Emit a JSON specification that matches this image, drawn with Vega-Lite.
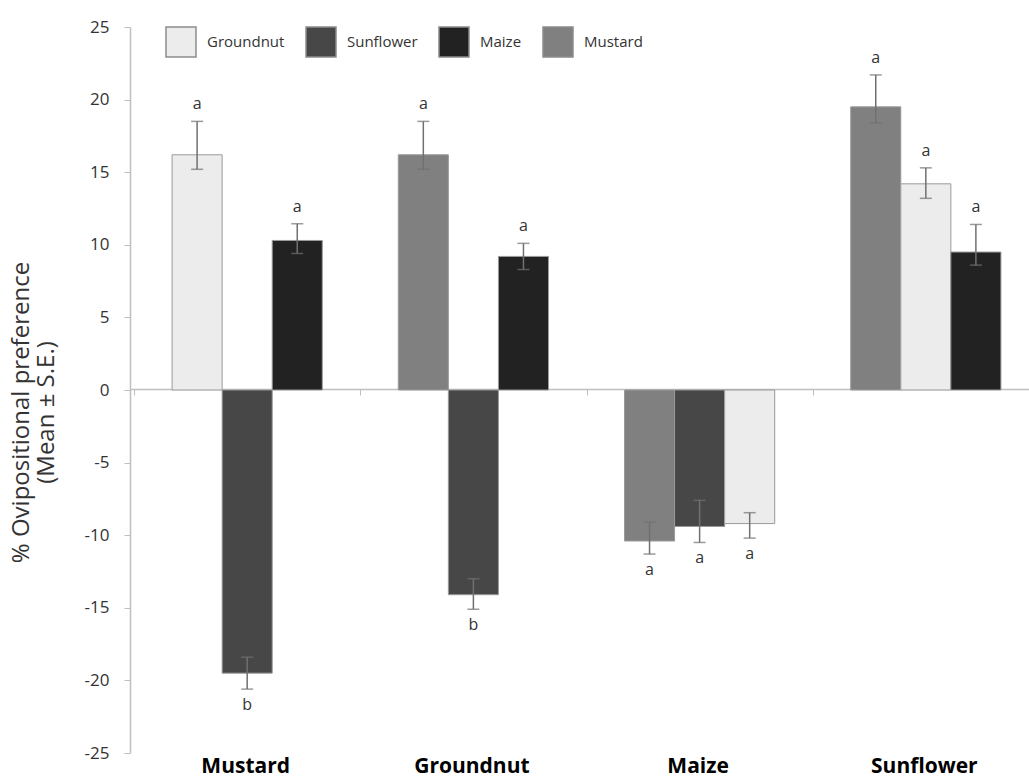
{
  "$schema": "https://vega.github.io/schema/vega-lite/v6.json",
  "width": 899,
  "height": 726,
  "autosize": {"type": "none"},
  "padding": {"left": 130, "top": 27, "right": 0, "bottom": 27},
  "config": {"view": {"stroke": null}, "font": "Open Sans"},
  "data": {
    "values": [
      {"group": "Mustard", "crop": "Groundnut", "slot": 1, "value": 16.2, "lo": 15.2, "hi": 18.5, "letter": "a"},
      {"group": "Mustard", "crop": "Sunflower", "slot": 2, "value": -19.5, "lo": -20.6, "hi": -18.4, "letter": "b"},
      {"group": "Mustard", "crop": "Maize", "slot": 3, "value": 10.3, "lo": 9.4, "hi": 11.45, "letter": "a"},
      {"group": "Groundnut", "crop": "Mustard", "slot": 1, "value": 16.2, "lo": 15.2, "hi": 18.5, "letter": "a"},
      {"group": "Groundnut", "crop": "Sunflower", "slot": 2, "value": -14.1, "lo": -15.1, "hi": -13.0, "letter": "b"},
      {"group": "Groundnut", "crop": "Maize", "slot": 3, "value": 9.2, "lo": 8.3, "hi": 10.1, "letter": "a"},
      {"group": "Maize", "crop": "Mustard", "slot": 1, "value": -10.4, "lo": -11.3, "hi": -9.1, "letter": "a"},
      {"group": "Maize", "crop": "Sunflower", "slot": 2, "value": -9.4, "lo": -10.5, "hi": -7.6, "letter": "a"},
      {"group": "Maize", "crop": "Groundnut", "slot": 3, "value": -9.2, "lo": -10.2, "hi": -8.45, "letter": "a"},
      {"group": "Sunflower", "crop": "Mustard", "slot": 1, "value": 19.5, "lo": 18.4, "hi": 21.7, "letter": "a"},
      {"group": "Sunflower", "crop": "Groundnut", "slot": 2, "value": 14.2, "lo": 13.2, "hi": 15.3, "letter": "a"},
      {"group": "Sunflower", "crop": "Maize", "slot": 3, "value": 9.5, "lo": 8.6, "hi": 11.4, "letter": "a"}
    ]
  },
  "encoding": {
    "x": {
      "field": "group",
      "type": "nominal",
      "sort": ["Mustard", "Groundnut", "Maize", "Sunflower"],
      "scale": {"range": [0, 913], "paddingInner": 0.336, "paddingOuter": 0.186},
      "axis": {
        "title": null,
        "orient": "bottom",
        "offset": -364,
        "domainColor": "#bfbfbf",
        "domainWidth": 1.5,
        "tickColor": "#bfbfbf",
        "tickSize": 6,
        "tickOffset": -113,
        "labelOffset": 111,
        "labelPadding": 360,
        "labelFontSize": 21,
        "labelFontWeight": "bold",
        "labelColor": "#000000",
        "labelAngle": 0
      }
    },
    "xOffset": {"field": "slot", "type": "ordinal", "scale": {"paddingInner": 0, "paddingOuter": 0}}
  },
  "layer": [
    {
      "mark": {"type": "bar", "stroke": "#9a9a9a", "strokeWidth": 1},
      "encoding": {
        "y": {
          "field": "value",
          "type": "quantitative",
          "title": ["% Ovipositional preference", "(Mean ± S.E.)"],
          "scale": {"domain": [-25, 25], "nice": false},
          "axis": {
            "values": [-25, -20, -15, -10, -5, 0, 5, 10, 15, 20, 25],
            "labelExpr": "toString(datum.value)",
            "grid": false,
            "domainColor": "#bfbfbf",
            "domainWidth": 1.5,
            "tickColor": "#bfbfbf",
            "tickSize": 6,
            "labelFontSize": 17,
            "labelColor": "#333333",
            "labelPadding": 15,
            "titleFontSize": 24,
            "titleFontWeight": "normal",
            "titleColor": "#333333",
            "titleAngle": -90,
            "titleBaseline": "middle",
            "titleAlign": "center",
            "titleX": -109,
            "titleY": 385,
            "titleLineHeight": 25
          }
        },
        "color": {
          "field": "crop",
          "type": "nominal",
          "scale": {"domain": ["Groundnut", "Sunflower", "Maize", "Mustard"], "range": ["#ececec", "#474747", "#222222", "#808080"]},
          "legend": {
            "orient": "none",
            "legendX": 35,
            "legendY": -1,
            "direction": "horizontal",
            "columns": 4,
            "title": null,
            "symbolType": "square",
            "symbolSize": 900,
            "symbolStrokeColor": "#8c8c8c",
            "symbolStrokeWidth": 1.5,
            "symbolOpacity": 1,
            "labelFontSize": 15,
            "labelColor": "#333333",
            "labelOffset": 10,
            "columnPadding": 18,
            "padding": 0
          }
        }
      }
    },
    {
      "mark": {"type": "rule", "color": "#707070", "strokeWidth": 1.5},
      "encoding": {
        "y": {"field": "lo", "type": "quantitative", "title": ["% Ovipositional preference", "(Mean ± S.E.)"]},
        "y2": {"field": "hi"}
      }
    },
    {
      "mark": {"type": "tick", "color": "#707070", "thickness": 1.5, "size": 12},
      "encoding": {
        "y": {"field": "lo", "type": "quantitative", "title": ["% Ovipositional preference", "(Mean ± S.E.)"]}
      }
    },
    {
      "mark": {"type": "tick", "color": "#707070", "thickness": 1.5, "size": 12},
      "encoding": {
        "y": {"field": "hi", "type": "quantitative", "title": ["% Ovipositional preference", "(Mean ± S.E.)"]}
      }
    },
    {
      "transform": [{"filter": "datum.value > 0"}],
      "mark": {"type": "text", "dy": -17, "fontSize": 16, "color": "#333333", "baseline": "middle"},
      "encoding": {
        "y": {"field": "hi", "type": "quantitative", "title": ["% Ovipositional preference", "(Mean ± S.E.)"]},
        "text": {"field": "letter"}
      }
    },
    {
      "transform": [{"filter": "datum.value < 0"}],
      "mark": {"type": "text", "dy": 16, "fontSize": 16, "color": "#333333", "baseline": "middle"},
      "encoding": {
        "y": {"field": "lo", "type": "quantitative", "title": ["% Ovipositional preference", "(Mean ± S.E.)"]},
        "text": {"field": "letter"}
      }
    }
  ]
}
